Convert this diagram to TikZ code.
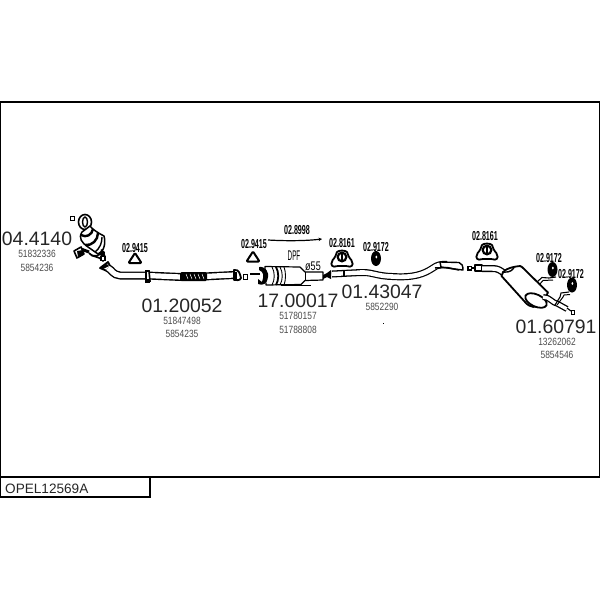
\documentclass[tikz,border=0pt]{standalone}
\usepackage{fontspec}
\usetikzlibrary{arrows.meta}
\setmainfont{Liberation Sans}
\newfontfamily\narrowf[FakeStretch=0.8]{Liberation Sans}
\newfontfamily\narrowg[FakeStretch=0.72]{Liberation Sans}
\newfontfamily\narrowc[FakeStretch=0.45]{Liberation Sans}
\newfontfamily\narrowb[FakeStretch=0.55]{Liberation Sans Bold}
\tikzset{
  x=1pt,y=-1pt,
  partno/.style={inner sep=0pt,font=\fontsize{19.4}{20}\selectfont,text=black!85},
  refno/.style={inner sep=0pt,font=\narrowf\fontsize{10.5}{11}\selectfont,text=black!70},
  mountno/.style={inner sep=0pt,font=\narrowb\fontsize{13}{13}\selectfont},
  frameline/.style={draw=black,line width=1.2pt},
  pipeout/.style={line width=8pt,draw=black,line cap=butt,line join=round},
  pipein/.style={line width=5.2pt,draw=white,line cap=butt,line join=round},
  thin outline/.style={draw=black,line width=1.2pt,fill=white,line join=round},
  sqmark/.style={draw=black,fill=white,line width=1.1pt,minimum size=4.5pt,inner sep=0pt,rectangle},
}
\newcommand{\tripad}[2]{%
  \draw[draw=black,line width=2pt,fill=white,rounded corners=1pt,line join=round]
    (#1,#2-5) -- (#1+6.5,#2+5) -- (#1-6.5,#2+5) -- cycle;}
\newcommand{\ringmount}[2]{%
  \draw[draw=black,line width=1.8pt,fill=white,rounded corners=2pt]
    (#1-6,#2+9) .. controls (#1-9,#2+10) and (#1-11,#2+8) .. (#1-10,#2+5)
    .. controls (#1-9,#2+2) and (#1-7,#2+1) .. (#1-6,#2-3)
    .. controls (#1-4,#2-7) and (#1+4,#2-7) .. (#1+6,#2-3)
    .. controls (#1+7,#2+1) and (#1+9,#2+2) .. (#1+10,#2+5)
    .. controls (#1+11,#2+8) and (#1+9,#2+10) .. (#1+6,#2+9) -- cycle;
  \fill[black] (#1,#2) circle (5.5pt);
  \fill[white] (#1,#2) circle (3pt);
  \fill[black] (#1-.7,#2-3) rectangle (#1+.7,#2+3);}
\newcommand{\ovalmount}[2]{%
  \fill[black] (#1,#2) ellipse (5pt and 7.5pt);
  \fill[white] (#1+.4,#2-1.5) ellipse (1pt and 1.5pt);}
\begin{document}
\begin{tikzpicture}
\useasboundingbox (0,0) rectangle (600,600);
% frames
\draw[frameline] (.6,102) rectangle (599.4,477);
\draw[frameline] (.6,477) rectangle (150,497);
\node[anchor=west,inner sep=0pt,font=\fontsize{13.6}{14}\selectfont,text=black!85] (title) at (5,489) {OPEL12569A};

% catalytic converter
\node[sqmark] (s1) at (72.5,218.5) {};
\draw[thin outline,line width=1.6pt] (85,222) ellipse (6.5pt and 7.5pt);
\draw[draw=black,line width=1.4pt] (85,222) ellipse (2.5pt and 5pt);
\draw[thin outline,line width=1.5pt] (82,232) .. controls (78,238) and (82,243) .. (88,247)
  -- (98,254) .. controls (104,252) and (106,243) .. (104,236)
  .. controls (98,233) and (92,229) .. (90,226) -- cycle;
\draw[line width=2.4pt] (81,235) .. controls (86,238) and (92,235) .. (93,229);
\draw[line width=2.4pt] (85,245) .. controls (92,246) and (98,240) .. (98,233);
\draw[line width=1.4pt] (95,252) .. controls (100,248) and (102,243) .. (102,237);
\draw[line width=3pt] (89,252) -- (81,249);
\draw[thin outline,line width=1.6pt] (74,251) -- (81,247) -- (84,254) -- (77,258) -- cycle;
\fill[black] (77,251) -- (83,250) -- (83,254) -- (78,257) -- cycle;
\draw[thin outline,line width=1.6pt] (89,253) .. controls (94,258) and (99,256) .. (102,252)
  .. controls (105,254) and (106,258) .. (103,261) .. controls (98,255) and (92,258) .. (89,253);
\fill[black] (101,249) -- (105,252) -- (104,258) -- (100,255) -- cycle;
\node[sqmark,minimum size=4pt] (s2) at (103,258.5) {};

% front pipe
\draw[thin outline,line width=1.8pt] (100,268) -- (108,262) -- (111,268) -- (107,271) -- cycle;
\fill[black] (100,268) -- (107,264) -- (109,266) -- (103,269) -- cycle;
\draw[pipeout] (108,268) .. controls (112,270) and (113,275) .. (120,275.5) -- (147,275.5) -- (181,277);
\draw[pipein] (108,268) .. controls (112,270) and (113,275) .. (120,275.5) -- (147,275.5) -- (181,277);
\draw[draw=black,line width=1.6pt,fill=white] (146,271) -- (149,271) -- (150,281) -- (146,281) -- cycle;
\fill[black] (145,279) rectangle (150,283);
\draw[pipeout] (204,276.5) -- (234,275);
\draw[pipein] (204,276.5) -- (234,275);
\fill[black,rounded corners=1.5pt] (180,272) rectangle (207,281);
\foreach \k in {186,190,...,202} \draw[white,line width=.5pt] (\k,274) -- (\k+2,279);
\draw[thin outline,line width=1.8pt] (234,270) .. controls (239,269) and (240,274) .. (241,278)
  .. controls (240,281) and (236,280) .. (234,280) -- cycle;
\fill[black] (233,272) rectangle (237,279);
\node[sqmark] (s3) at (245.5,277) {};

% DPF
\draw[line width=2pt] (250,273.5) -- (260,273.5);
\draw[thin outline] (265,266.5) -- (300,267) -- (305,272) -- (323,272) -- (323,280) -- (305,280.5)
  -- (301,284.5) -- (266,285) -- cycle;
\fill[black] (259,267) .. controls (266,266) and (269,273) .. (268,277)
  .. controls (267,284) and (263,286) .. (258,284) -- (258,279) -- (262,282) .. controls (264,276) and (264,272) .. (259,270) -- cycle;
\draw[line width=.9pt] (272,267) .. controls (275,272) and (275,280) .. (272,285);
\draw[line width=1.8pt] (276,267) .. controls (279,272) and (279,280) .. (276,285);
\draw[line width=.9pt] (280,267) .. controls (283,272) and (283,280) .. (280,285);
\draw[line width=.9pt] (284,267) .. controls (286,272) and (286,280) .. (284,285);
\draw[line width=.9pt] (305,272) -- (305,280.5);
\draw[line width=1.4pt] (281,285.5) -- (311,285.5);
\fill[black] (323,275) -- (327,273) -- (331,270) -- (331,279) -- (327,277) -- (323,279) -- cycle;

% middle pipe
\coordinate (m1) at (332,274);
\draw[pipeout,line width=7pt] (m1) -- (361,272.5);
\draw[pipein,line width=4.4pt] (m1) -- (361,272.5);
\draw[line width=1.2pt] (344,270) -- (344,277);
\draw[pipeout,line width=7pt] (361,272.5) .. controls (372,272) and (376,276) .. (392,276.5)
  .. controls (414,278) and (424,274) .. (433,268) .. controls (437,265) and (441,264) .. (447,264.5);
\draw[pipein,line width=4.6pt] (360,272.5) .. controls (372,272) and (376,276) .. (392,276.5)
  .. controls (414,278) and (424,274) .. (433,268) .. controls (437,265) and (441,264) .. (447,264.5);
\draw[thin outline,line width=1.4pt] (440,262) -- (459,262.5) .. controls (462,263) and (463,266) .. (463,270)
  -- (454,269) -- (441,267) -- cycle;
\draw[line width=1.5pt] (435,268) -- (447,267.5) -- (459,270);
\fill[black] (382.5,322.5) rectangle (383.5,323.5);

% rear muffler
\fill[black] (467,265.5) rectangle (472,270.5);
\fill[white] (468.5,267) rectangle (470.5,269);
\draw[line width=1.1pt] (472,268) -- (475,268);
\draw[thin outline] (475,265) -- (482,265) -- (482,271) -- (475,271) -- cycle;
\draw[pipeout,line width=7pt] (482,268.5) -- (492,268.5) .. controls (498,268.5) and (500,270) .. (505,274);
\draw[pipein,line width=4.4pt] (482,268.5) -- (492,268.5) .. controls (498,268.5) and (500,270) .. (505,274);
\draw[draw=black,line width=1.8pt,fill=white,line join=round] (501.5,276)
  .. controls (502,270) and (510,267) .. (520,266) -- (522,267) -- (548,292.5)
  -- (541,305) .. controls (536,308) and (530,308) .. (525,302) -- cycle;
\draw[line width=1.4pt] (502,272) .. controls (506,272) and (510,273) .. (514,268);
\draw[draw=black,line width=1.8pt,fill=white,rotate around={-25:(536,300.5)}] (536,300.5) ellipse (11.5pt and 6pt);
% tail pipe
\draw[pipeout,line width=6pt] (543,297) .. controls (550,297) and (552,303) .. (558,304) -- (567,309);
\draw[pipein,line width=3.4pt] (543,297) .. controls (550,297) and (552,303) .. (558,304) -- (567,309);
\draw[line width=1.1pt] (567,308) -- (571,311);
\node[sqmark,minimum size=3.6pt] (s4) at (573,312.5) {};
% hanger rods
\draw[line width=1.1pt] (537,282) -- (542,277.5) -- (549,278) -- (556,277);
\draw[line width=1pt] (539,285) -- (543,280.5) -- (553,280);
\draw[line width=1.1pt] (555,305) -- (560,297) -- (561,293) -- (569,292);
\draw[line width=1pt] (557,305) -- (563,297) -- (564,295) -- (570,294.5);

% mounts
\tripad{135}{258}
\tripad{253}{256.5}
\ringmount{342}{257}
\ringmount{487}{250}
\ovalmount{376}{258.5}
\ovalmount{552.5}{269.5}
\ovalmount{572}{285}

% clamp arrow
\draw[line width=1.2pt,-{Stealth[length=3.5pt,width=3.5pt]}] (268,240) .. controls (285,241) and (305,241) .. (322,239);

% labels
\node[partno] (p1) at (37,238.5) {04.4140};
\node[refno] (r1a) at (37,254) {51832336};
\node[refno] (r1b) at (37,268) {5854236};
\node[partno] (p2) at (182,305.5) {01.20052};
\node[refno] (r2a) at (182,320.5) {51847498};
\node[refno] (r2b) at (182,334) {5854235};
\node[partno] (p3) at (298,301) {17.00017};
\node[refno] (r3a) at (298,315.5) {51780157};
\node[refno] (r3b) at (298,330) {51788808};
\node[partno] (p4) at (382,292) {01.43047};
\node[refno] (r4a) at (382,307) {5852290};
\node[partno] (p5) at (556,326.5) {01.60791};
\node[refno] (r5a) at (557,341.5) {13262062};
\node[refno] (r5b) at (557,355) {5854546};
\node[mountno] (m9415a) at (135,248) {02.9415};
\node[mountno] (m9415b) at (254,244.5) {02.9415};
\node[mountno] (m8998) at (297,230) {02.8998};
\node[mountno] (m8161a) at (342,243) {02.8161};
\node[mountno] (m9172a) at (376,247) {02.9172};
\node[mountno] (m8161b) at (485,236) {02.8161};
\node[mountno] (m9172b) at (549,258) {02.9172};
\node[mountno] (m9172c) at (571,274) {02.9172};
\node[inner sep=0pt,font=\narrowc\fontsize{14}{14}\selectfont] (dpf) at (294,255.5) {DPF};
\node[inner sep=0pt,font=\narrowg\fontsize{12.5}{13}\selectfont] (dia) at (313,266) {ø55};
\end{tikzpicture}
\end{document}
